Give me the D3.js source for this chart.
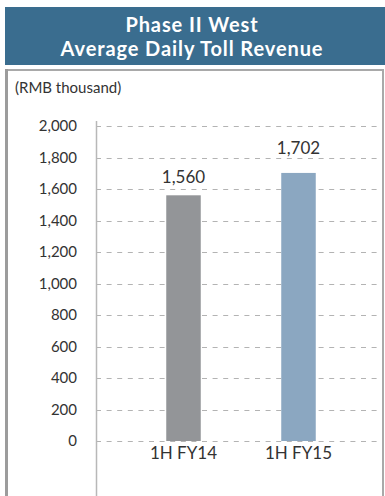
<!DOCTYPE html>
<html>
<head>
<meta charset="utf-8">
<script src="https://cdn.jsdelivr.net/npm/d3@7/dist/d3.min.js"></script>
<style>
  html, body { margin: 0; padding: 0; background: #fff; }
  svg { display: block; }
</style>
</head>
<body>
<svg id="chart" width="385" height="496"></svg>
<script>
// Average daily toll revenue, Phase II West (RMB thousand)
const categories = ["1H FY14", "1H FY15"];
const revenue = [1560, 1702];
const barColors = ["#939598", "#8ba7c1"];
const yTicks = [0, 200, 400, 600, 800, 1000, 1200, 1400, 1600, 1800, 2000];
const titleLines = ["Phase II West", "Average Daily Toll Revenue"];
const unitLabel = "(RMB thousand)";

const font = "Lato, 'Open Sans', sans-serif";
const svg = d3.select("#chart");

// Title banner
svg.append("rect")
  .attr("x", 5).attr("y", 7)
  .attr("width", 380).attr("height", 58)
  .attr("fill", "#3a6d8f");

svg.selectAll("text.title")
  .data(titleLines)
  .join("text")
  .attr("class", "title")
  .attr("x", 192)
  .attr("y", (d, i) => 32 + i * 24)
  .attr("text-anchor", "middle")
  .attr("fill", "#fff")
  .attr("font-family", font)
  .attr("font-weight", "bold")
  .attr("font-size", 20)
  .attr("letter-spacing", 0.9)
  .text(d => d);

// Panel frame
svg.append("line").attr("x1", 5).attr("x2", 384).attr("y1", 70).attr("y2", 70)
  .attr("stroke", "#a9a9a9").attr("stroke-width", 2);
svg.append("line").attr("x1", 6.5).attr("x2", 6.5).attr("y1", 69).attr("y2", 496)
  .attr("stroke", "#9c9c9c").attr("stroke-width", 3);
svg.append("line").attr("x1", 383).attr("x2", 383).attr("y1", 69).attr("y2", 496)
  .attr("stroke", "#a9a9a9").attr("stroke-width", 2);

svg.append("text")
  .attr("x", 15).attr("y", 93)
  .attr("fill", "#333")
  .attr("font-family", font)
  .attr("font-size", 15)
  .text(unitLabel);

// Scales
const y = d3.scaleLinear().domain([0, 2000]).range([441, 126]);
const x = d3.scaleBand()
  .domain(categories)
  .range([126, 356])
  .paddingInner(0.7)
  .paddingOuter(0.35);

const axisX = 96;

// Dashed gridlines
svg.append("g")
  .selectAll("line")
  .data(yTicks)
  .join("line")
  .attr("x1", axisX).attr("x2", 382)
  .attr("y1", d => Math.round(y(d)) + 0.5)
  .attr("y2", d => Math.round(y(d)) + 0.5)
  .attr("stroke", "#b3b3b3")
  .attr("stroke-width", 1)
  .attr("stroke-dasharray", "5,5.6");

// Y axis
const yAxis = d3.axisLeft(y)
  .tickValues(yTicks)
  .tickFormat(d3.format(","))
  .tickSize(0)
  .tickPadding(19);

const gy = svg.append("g")
  .attr("transform", `translate(${axisX},0)`)
  .call(yAxis);
gy.select(".domain").remove();
gy.selectAll("text")
  .attr("fill", "#333")
  .attr("font-family", font)
  .attr("font-size", 15);

svg.append("line")
  .attr("x1", axisX + 0.5).attr("x2", axisX + 0.5)
  .attr("y1", 121).attr("y2", 496)
  .attr("stroke", "#b8b8b8").attr("stroke-width", 1.5);

// Bars
svg.append("g")
  .selectAll("rect")
  .data(revenue)
  .join("rect")
  .attr("x", (d, i) => x(categories[i]))
  .attr("width", x.bandwidth())
  .attr("y", d => y(d))
  .attr("height", d => y(0) - y(d))
  .attr("fill", (d, i) => barColors[i]);

// Value labels: sit 12px above the bar, lifted clear of a gridline they would cross
const labelSize = 17;
function labelBaseline(v) {
  let base = y(v) - 12;
  yTicks.forEach(t => {
    const gy = y(t);
    if (base > gy && base - labelSize * 0.75 < gy) base = gy - 4;
  });
  return base;
}
svg.append("g")
  .selectAll("text")
  .data(revenue)
  .join("text")
  .attr("x", (d, i) => x(categories[i]) + x.bandwidth() / 2)
  .attr("y", d => labelBaseline(d))
  .attr("text-anchor", "middle")
  .attr("fill", "#333")
  .attr("font-family", font)
  .attr("font-size", labelSize)
  .text(d => d3.format(",")(d));

// Category labels
svg.append("g")
  .selectAll("text")
  .data(categories)
  .join("text")
  .attr("x", d => x(d) + x.bandwidth() / 2)
  .attr("y", 459)
  .attr("text-anchor", "middle")
  .attr("fill", "#333")
  .attr("font-family", font)
  .attr("font-size", 17)
  .text(d => d);
</script>
</body>
</html>
